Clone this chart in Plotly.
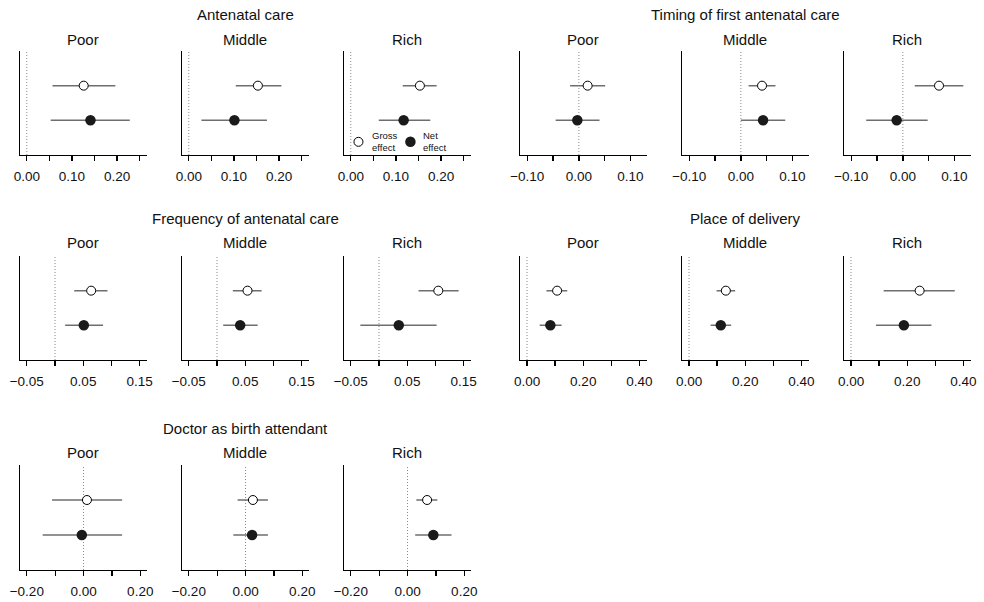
import plotly.graph_objects as go

# ---------------- data ----------------
groups = ["Antenatal care", "Timing of first antenatal care",
          "Frequency of antenatal care", "Place of delivery",
          "Doctor as birth attendant"]
wealth = ["Poor", "Middle", "Rich"]

gross_est = [[0.126, 0.153, 0.153], [0.017, 0.041, 0.070], [0.064, 0.054, 0.105],
             [0.107, 0.131, 0.244], [0.012, 0.026, 0.069]]
gross_lo = [[0.057, 0.104, 0.115], [-0.017, 0.015, 0.023], [0.034, 0.028, 0.070],
            [0.069, 0.098, 0.116], [-0.111, -0.028, 0.031]]
gross_hi = [[0.196, 0.205, 0.190], [0.051, 0.067, 0.117], [0.093, 0.079, 0.141],
            [0.143, 0.164, 0.369], [0.136, 0.079, 0.105]]
net_est = [[0.141, 0.101, 0.117], [-0.003, 0.043, -0.012], [0.051, 0.041, 0.035],
           [0.083, 0.113, 0.188], [-0.006, 0.023, 0.091]]
net_lo = [[0.053, 0.028, 0.062], [-0.045, 0.000, -0.071], [0.018, 0.011, -0.033],
          [0.045, 0.077, 0.089], [-0.144, -0.043, 0.027]]
net_hi = [[0.228, 0.173, 0.176], [0.040, 0.086, 0.048], [0.085, 0.072, 0.102],
          [0.123, 0.150, 0.286], [0.136, 0.079, 0.155]]

x_ranges = [[-0.015, 0.265], [-0.114, 0.131], [-0.062, 0.162],
            [-0.025, 0.425], [-0.224, 0.222]]
tick_vals = [[0, 0.05, 0.10, 0.15, 0.20, 0.25],
             [-0.10, -0.05, 0, 0.05, 0.10],
             [-0.05, 0, 0.05, 0.10, 0.15],
             [0, 0.10, 0.20, 0.30, 0.40],
             [-0.20, -0.10, 0, 0.10, 0.20]]
tick_text = [["0.00", "", "0.10", "", "0.20", ""],
             ["\u22120.10", "", "0.00", "", "0.10"],
             ["\u22120.05", "", "0.05", "", "0.15"],
             ["0.00", "", "0.20", "", "0.40"],
             ["\u22120.20", "", "0.00", "", "0.20"]]

legend_labels = ["Gross<br>effect", "Net<br>effect"]

# ---------------- layout geometry (pixels) ----------------
W, H = 984, 602
FONT = "Liberation Sans, Arial, Helvetica, sans-serif"
TXT = "#111111"
group_cell = [(0, 0), (0, 1), (1, 0), (1, 1), (2, 0)]   # (row, column-group)
group_x0 = [20, 520]
panel_step = 162.0
panel_w = 126.5
row_top = [51, 256, 465]
row_bot = [155, 360, 570]
title_y = [14, 218.3, 428.3]
sub_y = [39, 242.3, 452.3]


def px(x):
    return x / W


def py(y):
    return 1 - y / H


fig = go.Figure()
layout = dict(width=W, height=H, margin=dict(l=0, r=0, t=0, b=0, autoexpand=False),
              paper_bgcolor="white", plot_bgcolor="white",
              showlegend=False, font=dict(family=FONT, color=TXT))
annotations = []
shapes = []

k = 0
for g, name in enumerate(groups):
    r, cg = group_cell[g]
    left0 = group_x0[cg]
    gx_l = left0
    gx_r = left0 + 2 * panel_step + panel_w
    annotations.append(dict(text=name, x=px((gx_l + gx_r) / 2), y=py(title_y[r]),
                            xref="paper", yref="paper", showarrow=False,
                            xanchor="center", yanchor="middle",
                            font=dict(size=15, family=FONT, color=TXT)))
    for j, wname in enumerate(wealth):
        k += 1
        sfx = "" if k == 1 else str(k)
        xa, ya = "x" + sfx, "y" + sfx
        x0 = left0 + j * panel_step
        x1 = x0 + panel_w
        layout["xaxis" + sfx] = dict(
            domain=[px(x0), px(x1)], anchor=ya, range=x_ranges[g],
            showline=True, linecolor="black", linewidth=1.3, mirror=False,
            showgrid=False, zeroline=False, ticks="outside", ticklen=5,
            tickwidth=1.3, tickcolor="black", tickvals=tick_vals[g],
            ticktext=tick_text[g], tickfont=dict(size=13.5, family=FONT, color=TXT),
            ticklabelstandoff=3, automargin=False, fixedrange=True)
        layout["yaxis" + sfx] = dict(
            domain=[py(row_bot[r]), py(row_top[r])], anchor=xa, range=[0, 3],
            showline=True, linecolor="black", linewidth=1.3, showgrid=False,
            zeroline=False, showticklabels=False, ticks="", automargin=False,
            fixedrange=True)
        # dotted zero reference line
        shapes.append(dict(type="line", xref=xa, yref=ya + " domain",
                           x0=0, x1=0, y0=0, y1=1,
                           line=dict(color="#8a8a8a", width=1, dash="1px,2px"),
                           layer="below"))
        annotations.append(dict(text=wname, x=px((x0 + x1) / 2), y=py(sub_y[r]),
                                xref="paper", yref="paper", showarrow=False,
                                xanchor="center", yanchor="middle",
                                font=dict(size=15, family=FONT, color=TXT)))
        # confidence intervals
        fig.add_trace(go.Scatter(
            x=[gross_lo[g][j], gross_hi[g][j], None, net_lo[g][j], net_hi[g][j]],
            y=[2, 2, None, 1, 1], mode="lines",
            line=dict(color="#6e6e6e", width=1.5),
            xaxis=xa, yaxis=ya, hoverinfo="skip"))
        # gross effect (open)
        fig.add_trace(go.Scatter(
            x=[gross_est[g][j]], y=[2], mode="markers",
            marker=dict(symbol="circle", size=9, color="white",
                        line=dict(color="black", width=1)),
            xaxis=xa, yaxis=ya))
        # net effect (filled)
        fig.add_trace(go.Scatter(
            x=[net_est[g][j]], y=[1], mode="markers",
            marker=dict(symbol="circle", size=10.5, color="#1a1a1a",
                        line=dict(width=0)),
            xaxis=xa, yaxis=ya))

        if g == 0 and j == 2:
            # legend inside the Antenatal care / Rich panel
            fig.add_trace(go.Scatter(
                x=[0.017], y=[0.38], mode="markers",
                marker=dict(symbol="circle", size=9, color="white",
                            line=dict(color="black", width=1)),
                xaxis=xa, yaxis=ya, hoverinfo="skip"))
            fig.add_trace(go.Scatter(
                x=[0.132], y=[0.38], mode="markers",
                marker=dict(symbol="circle", size=10.5, color="#1a1a1a"),
                xaxis=xa, yaxis=ya, hoverinfo="skip"))
            for lx, lab in zip([370, 420.7], legend_labels):
                annotations.append(dict(
                    text=lab, x=px(lx), y=py(141.5), xref="paper", yref="paper",
                    showarrow=False, xanchor="left", yanchor="middle", align="left",
                    font=dict(size=9.5, family=FONT, color=TXT)))

layout["annotations"] = annotations
layout["shapes"] = shapes
fig.update_layout(**layout)
fig.write_html("out.html",
               config={"displayModeBar": False, "staticPlot": True},
               post_script="document.body.style.margin='0px';"
                           "document.body.style.padding='0px';")
